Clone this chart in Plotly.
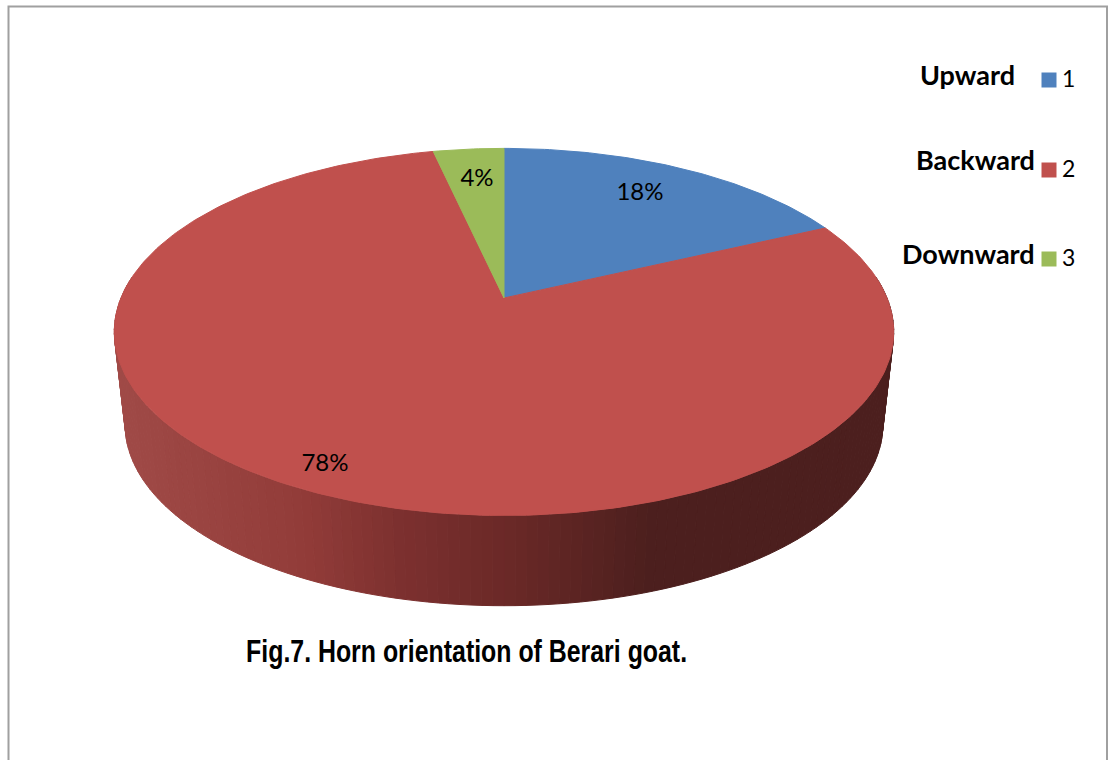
import math
import plotly.graph_objects as go

# ---- data ----
categories = ["1", "2", "3"]
category_names = ["Upward", "Backward", "Downward"]
values = [18.0, 78.5, 3.5]
percent_labels = ["18%", "78%", "4%"]

# ---- style ----
slice_colors = ["#4f81bd", "#c0504d", "#9bbb59"]
side_stops = [(113, (160, 74, 71)), (300, (146, 60, 57)), (400, (124, 48, 47)),
              (520, (104, 40, 38)), (650, (76, 31, 30)), (895, (76, 31, 30))]
BASE = "Lato"

CX, APEX_Y, A, C, E = 504.0, 298.0, 383.0, 122.2, -0.1848


def top_point(theta):
    """Perspective projection of a unit-disc rim point; theta clockwise from 12 o'clock."""
    u, v = math.sin(theta), -math.cos(theta)
    w = 1 + E * v
    return CX + A * u / w, (APEX_Y + C * v) / w


def bottom_point(theta):
    x, y = top_point(theta)
    return CX + (x - CX) * 0.972, 425 + (y - 332) * 0.985


def side_color(x):
    for (x0, c0), (x1, c1) in zip(side_stops, side_stops[1:]):
        if x <= x1:
            f = max(0.0, (x - x0) / (x1 - x0))
            return "rgb(%d,%d,%d)" % tuple(round(a + (b - a) * f) for a, b in zip(c0, c1))
    return "rgb(%d,%d,%d)" % side_stops[-1][1]


fig = go.Figure()


def poly(xs, ys, color):
    fig.add_trace(go.Scatter(x=xs, y=ys, mode="lines", fill="toself", fillcolor=color,
                             line=dict(color=color, width=1), hoverinfo="skip", showlegend=False))


# side wall of the disc, drawn as narrow strips over the front half of the rim
N = 140
for i in range(N):
    t0 = math.pi * 0.5 - 0.12 + (math.pi + 0.24) * i / N
    t1 = math.pi * 0.5 - 0.12 + (math.pi + 0.24) * (i + 1) / N
    a, b = top_point(t0), top_point(t1)
    c, d = bottom_point(t1), bottom_point(t0)
    poly([a[0], b[0], c[0], d[0], a[0]], [a[1], b[1], c[1], d[1], a[1]],
         side_color((a[0] + b[0]) / 2))

# top face: one wedge per value, starting at 12 o'clock and going clockwise
total = sum(values)
start = 0.0
for val, col in zip(values, slice_colors):
    sweep = 2 * math.pi * val / total
    n = max(6, int(val * 4))
    pts = [top_point(start + sweep * k / n) for k in range(n + 1)]
    poly([CX] + [p[0] for p in pts] + [CX], [APEX_Y] + [p[1] for p in pts] + [APEX_Y], col)
    start += sweep

# percentage labels
label_pos = [(640, 194), (325, 465), (477, 180)]
fig.add_trace(go.Scatter(x=[p[0] for p in label_pos], y=[p[1] for p in label_pos], mode="text",
                         text=percent_labels, textposition="middle center",
                         textfont=dict(family=BASE, size=24, color="#000000"),
                         hoverinfo="skip", showlegend=False))

# legend keys
key_y = [80, 170, 259]
fig.add_trace(go.Scatter(x=[1049] * 3, y=key_y, mode="markers",
                         marker=dict(symbol="square", size=15, color=slice_colors),
                         hoverinfo="skip", showlegend=False))
fig.add_trace(go.Scatter(x=[1062] * 3, y=[k + 1 for k in key_y], mode="text", text=categories,
                         textposition="middle right",
                         textfont=dict(family=BASE, size=23, color="#000000"),
                         hoverinfo="skip", showlegend=False))

name_pos = [(1017, 74), (1037, 159), (1037, 253)]
annotations = [dict(x=p[0], y=p[1], text="<b>%s</b>" % n, showarrow=False, xanchor="right",
                    yanchor="middle", xref="x", yref="y",
                    font=dict(family=BASE, size=27, color="#000000"))
               for p, n in zip(name_pos, category_names)]
annotations.append(dict(x=466, y=651, text="<b>Fig.7. Horn orientation of Berari goat.</b>",
                        showarrow=False, xanchor="center", yanchor="middle", xref="x", yref="y",
                        font=dict(family="Liberation Sans", size=32, color="#000000")))

fig.update_layout(
    width=1109, height=760, autosize=False,
    margin=dict(l=0, r=0, t=0, b=0), paper_bgcolor="#ffffff", plot_bgcolor="#ffffff",
    xaxis=dict(range=[0, 1109], visible=False, fixedrange=True),
    yaxis=dict(range=[760, 0], visible=False, fixedrange=True),
    annotations=annotations,
    shapes=[dict(type="path", path="M 8.5 770 L 8.5 6.5 L 1107 6.5 L 1107 770",
                 line=dict(color="#a0a0a0", width=2), xref="x", yref="y", layer="below")],
)
# The caption in the reference is set in a narrow face; condense the real text to its width.
condense = """
document.body.style.margin='0';
document.querySelectorAll('.annotation-text').forEach(function(t){
  if (t.textContent.indexOf('Fig.7') === 0) {
    t.querySelectorAll('tspan').forEach(function(s){
      s.setAttribute('textLength','441'); s.setAttribute('lengthAdjust','spacingAndGlyphs');
    });
    t.setAttribute('textLength','441'); t.setAttribute('lengthAdjust','spacingAndGlyphs');
  }
});
"""
fig.write_html("out.html", post_script=condense, config={"displayModeBar": False})
